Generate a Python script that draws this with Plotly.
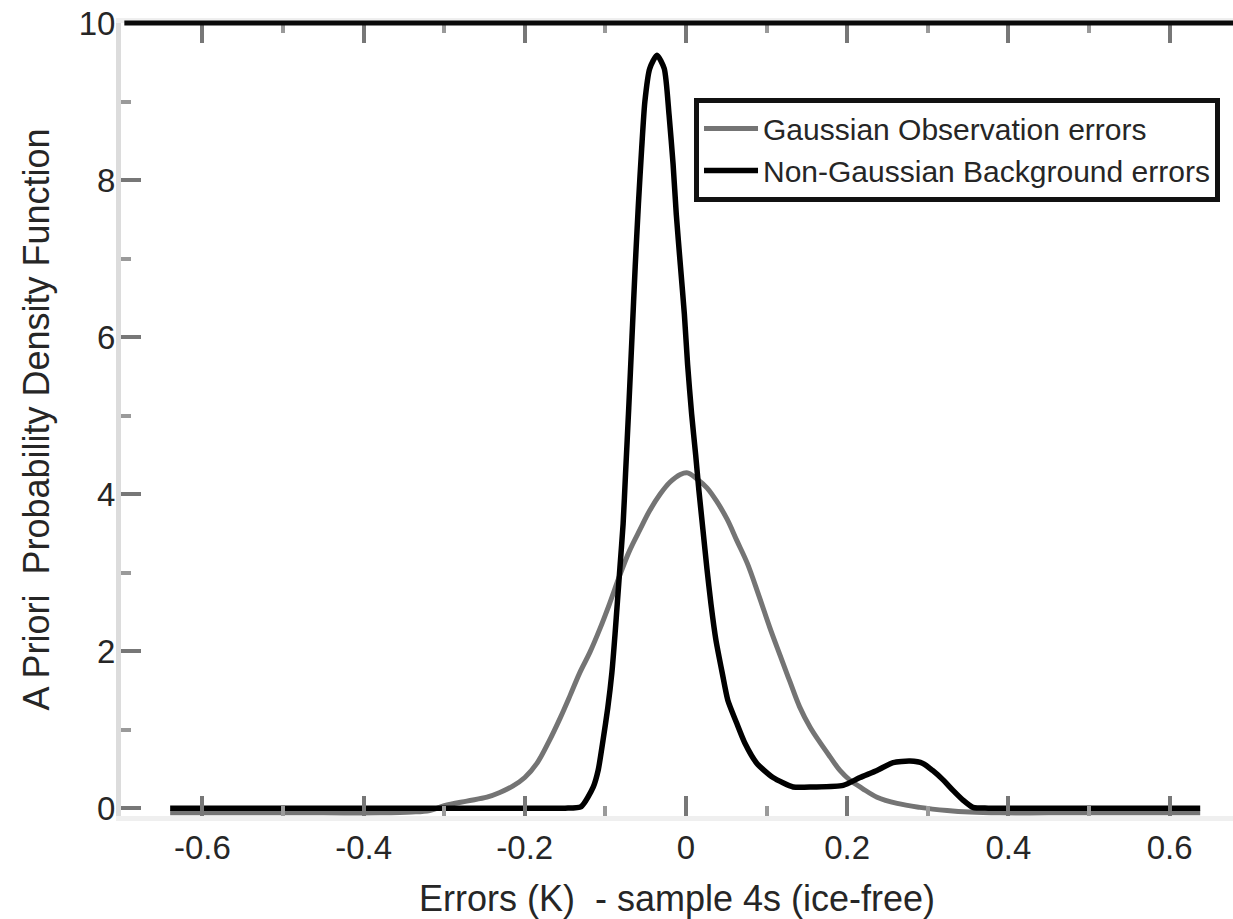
import plotly.graph_objects as go

# ---- data ----
gauss_x = [-0.64, -0.55, -0.45, -0.38, -0.34, -0.318, -0.30, -0.272, -0.247, -0.231, -0.215, -0.200,
           -0.185, -0.170, -0.156, -0.144, -0.132, -0.119, -0.107, -0.095, -0.082, -0.070, -0.057,
           -0.045, -0.032, -0.020, -0.007, 0.002, 0.014, 0.026, 0.038, 0.051, 0.063, 0.076,
           0.090, 0.104, 0.117, 0.129, 0.141, 0.154, 0.166, 0.179, 0.191, 0.203, 0.219,
           0.237, 0.262, 0.290, 0.324, 0.352, 0.39, 0.45, 0.55, 0.638]
gauss_y = [-0.06, -0.06, -0.06, -0.06, -0.05, -0.03, 0.03, 0.09, 0.14, 0.20, 0.28, 0.39,
           0.57, 0.85, 1.15, 1.43, 1.72, 1.99, 2.28, 2.60, 2.97, 3.28, 3.55,
           3.79, 4.00, 4.15, 4.25, 4.27, 4.19, 4.08, 3.91, 3.68, 3.41, 3.12,
           2.72, 2.30, 1.94, 1.61, 1.29, 1.03, 0.84, 0.65, 0.48, 0.36, 0.25,
           0.14, 0.06, 0.01, -0.03, -0.05, -0.06, -0.06, -0.06, -0.06]

bg_x = [-0.64, -0.55, -0.45, -0.35, -0.25, -0.18, -0.15, -0.13, -0.115, -0.109, -0.103, -0.097,
        -0.092, -0.088, -0.085, -0.082, -0.078,
        -0.075, -0.071, -0.067, -0.063, -0.059, -0.055, -0.051, -0.045, -0.036, -0.027,
        -0.021, -0.016, -0.012, -0.007, -0.002, 0.002, 0.007, 0.012, 0.016, 0.021, 0.026,
        0.031, 0.037, 0.045, 0.052, 0.063, 0.073, 0.088, 0.108, 0.133, 0.158, 0.195,
        0.216, 0.237, 0.257, 0.278, 0.294, 0.306, 0.319, 0.331, 0.344, 0.356, 0.375,
        0.42, 0.50, 0.58, 0.638]
bg_y = [0.0, 0.0, 0.0, 0.0, 0.0, 0.0, 0.0, 0.02, 0.27, 0.48, 0.86, 1.28,
        1.72, 2.22, 2.64, 3.06, 3.62,
        4.26, 5.10, 6.00, 6.90, 7.70, 8.40, 9.00, 9.42, 9.59, 9.42,
        8.83, 8.20, 7.56, 6.92, 6.29, 5.65, 5.02, 4.50, 4.05, 3.55, 3.05,
        2.60, 2.15, 1.72, 1.37, 1.08, 0.83, 0.57, 0.39, 0.27, 0.27, 0.29,
        0.39, 0.48, 0.58, 0.60, 0.57, 0.48, 0.36, 0.23, 0.10, 0.01, 0.0,
        0.0, 0.0, 0.0, 0.0]

x_tick_vals = [-0.6, -0.4, -0.2, 0, 0.2, 0.4, 0.6]
x_tick_text = ["-0.6", "-0.4", "-0.2", "0", "0.2", "0.4", "0.6"]
y_tick_vals = [0, 2, 4, 6, 8, 10]
y_tick_text = ["0", "2", "4", "6", "8", "10"]

series_names = ["Gaussian Observation errors", "Non-Gaussian Background errors"]
x_title = "Errors (K)  - sample 4s (ice-free)"
y_title = "A Priori  Probability Density Function"

FONT = "Liberation Sans, Arial, Helvetica, sans-serif"
TXT = "#262626"

fig = go.Figure()
fig.add_trace(go.Scatter(x=gauss_x, y=gauss_y, mode="lines", name=series_names[0],
                         line=dict(color="#747474", width=5, shape="spline", smoothing=1.0)))
fig.add_trace(go.Scatter(x=bg_x, y=bg_y, mode="lines", name=series_names[1],
                         line=dict(color="#000000", width=5.5, shape="spline", smoothing=0.6)))

fig.update_layout(
    width=1233, height=919,
    margin=dict(l=121, r=0, t=22.5, b=103, autoexpand=False),
    paper_bgcolor="white", plot_bgcolor="white",
    font=dict(family=FONT, color=TXT),
    showlegend=True,
    legend=dict(x=0.5153, y=0.906, xanchor="left", yanchor="top",
                bgcolor="white", bordercolor="#111111", borderwidth=5,
                font=dict(size=30, family=FONT, color=TXT),
                itemwidth=54, tracegroupgap=0),
    xaxis=dict(range=[-0.701, 0.6787], tickvals=x_tick_vals, ticktext=x_tick_text,
               automargin=False, ticklabeloverflow="allow",
               ticks="inside", ticklen=20, tickwidth=4, tickcolor="#777777",
               minor=dict(dtick=0.1, tick0=0, ticks="inside", ticklen=10, tickwidth=4,
                          tickcolor="#9a9a9a", showgrid=False),
               showline=True, linecolor="#efefef", linewidth=5, mirror="ticks",
               showgrid=False, zeroline=False,
               tickfont=dict(size=33, family=FONT, color=TXT), ticklabelstandoff=-2,
               title=dict(text=x_title, font=dict(size=36, family=FONT, color=TXT), standoff=24)),
    yaxis=dict(range=[-0.1, 10], tickvals=y_tick_vals, ticktext=y_tick_text,
               automargin=False, ticklabeloverflow="allow",
               ticks="inside", ticklen=20, tickwidth=4, tickcolor="#777777",
               minor=dict(dtick=1, tick0=0, ticks="inside", ticklen=10, tickwidth=4,
                          tickcolor="#9a9a9a", showgrid=False),
               showline=True, linecolor="#dcdcdc", linewidth=5, mirror=False,
               showgrid=False, zeroline=False,
               tickfont=dict(size=33, family=FONT, color=TXT), ticklabelstandoff=-6,
               title=dict(text=y_title, font=dict(size=36, family=FONT, color=TXT), standoff=20)),
    shapes=[dict(type="line", xref="paper", yref="paper", x0=0.003, x1=1, y0=1, y1=1,
                 line=dict(color="#0a0a0a", width=5), layer="above")],
)

fig.write_html("out.html",
               config={"displayModeBar": False},
               post_script="document.body.style.margin='0';document.body.style.padding='0';")
